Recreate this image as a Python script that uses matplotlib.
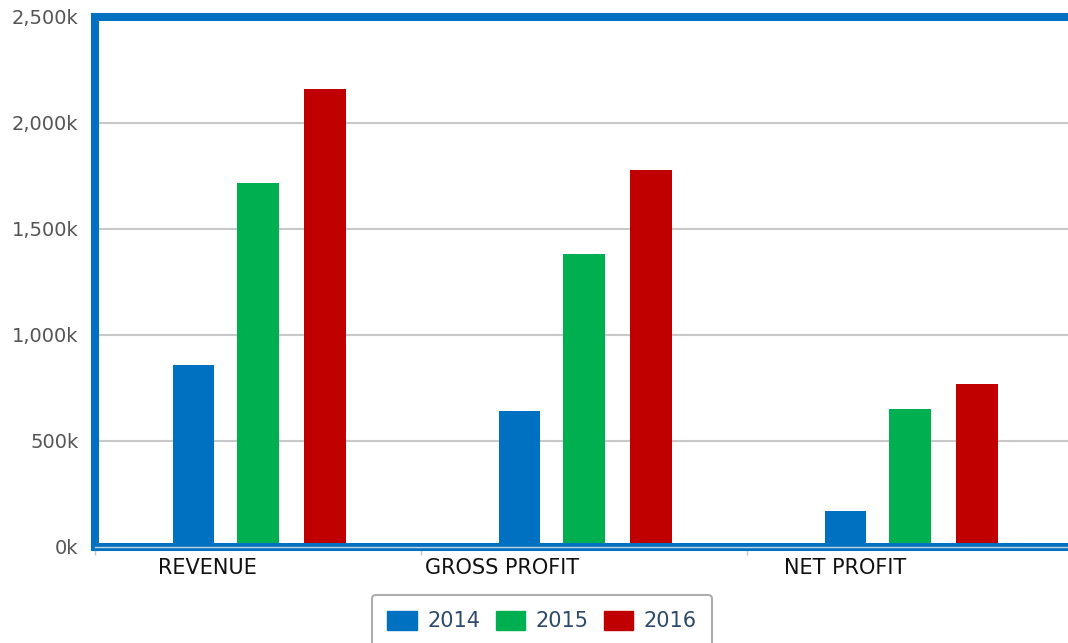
import numpy as np
import matplotlib.pyplot as plt
from matplotlib.patches import Patch

# values in thousands
categories = ["REVENUE", "GROSS PROFIT", "NET PROFIT"]
years = ["2014", "2015", "2016"]
values_2014 = [858, 641, 170]
values_2015 = [1717, 1382, 651]
values_2016 = [2160, 1778, 769]
y_ticks = [0, 500, 1000, 1500, 2000, 2500]
y_tick_labels = ["0k", "500k", "1,000k", "1,500k", "2,000k", "2,500k"]

colors = ["#0070c0", "#00b050", "#c00000"]
border_blue = "#0070c0"

W, H = 1068, 643
fig = plt.figure(figsize=(W / 100, H / 100), dpi=100)
plt.rcParams['font.family'] = ['DejaVu Sans']

# axes box in pixels: left 95, right edge past figure, 0 at y=547, 2500k at y=17
ax = fig.add_axes([95 / W, 1 - 547 / H, (W - 95) / W, (547 - 17) / H])

x = np.arange(len(categories))
bar_w = 0.127
offsets = [-0.197, 0.0, 0.206]
series = [values_2014, values_2015, values_2016]
for off, vals, c in zip(offsets, series, colors):
    ax.bar(x + off, vals, width=bar_w, color=c, zorder=2)

ax.set_xlim(-0.5, -0.5 + (W - 95) / 326)
ax.set_ylim(0, 2500)

# grid
ax.set_yticks(y_ticks)
ax.set_yticklabels(y_tick_labels, fontsize=14, color="#555555")
ax.tick_params(axis="y", length=0, pad=12)
ax.yaxis.grid(True, color="#c8c8c8", linewidth=1.5, zorder=0)
ax.set_axisbelow(True)

# category boundary ticks
ax.set_xticks([-0.5, 0.5, 1.5])
ax.set_xticklabels([])
ax.tick_params(axis="x", length=6, width=1, color="#c0c8d0", direction="out")

# category labels sit a bit off-centre in the original
label_x = [-0.156, 0.748, 1.800]
for lx, name in zip(label_x, categories):
    ax.text(lx, -0.040, name, transform=ax.get_xaxis_transform(),
            ha="center", va="center", fontsize=15, color="#111111")

# thick blue frame (left, top, bottom) with no right edge, drawn over the bars
for side in ["left", "top", "bottom"]:
    ax.spines[side].set_color(border_blue)
    ax.spines[side].set_linewidth(5.8)
    ax.spines[side].set_capstyle("projecting")
    ax.spines[side].set_zorder(4)
ax.spines["right"].set_visible(False)
ax.axhline(0, color="#c8d4e0", linewidth=1.0, zorder=5, clip_on=False)

handles = [Patch(facecolor=c, edgecolor=c, label=y) for c, y in zip(colors, years)]
leg = fig.legend(handles=handles, loc="upper center", ncol=3,
                 bbox_to_anchor=(542 / W, 1 - 595 / H), borderaxespad=0,
                 fontsize=15, frameon=True, fancybox=True,
                 handlelength=1.4, handleheight=1.05, handletextpad=0.5,
                 columnspacing=0.75, borderpad=0.75)
leg.get_frame().set_edgecolor("#999999")
leg.get_frame().set_linewidth(1.5)
for t in leg.get_texts():
    t.set_color("#2e4a6b")

plt.savefig("out.png", dpi=100)
plt.close()
